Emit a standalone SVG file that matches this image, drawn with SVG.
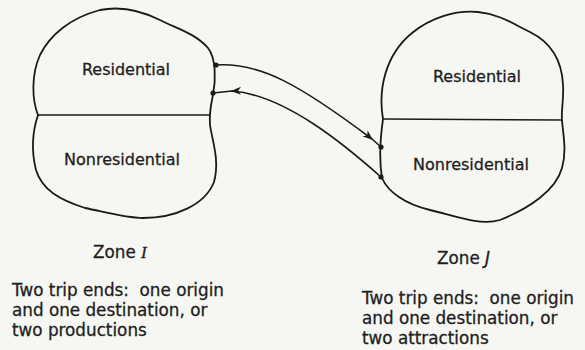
<svg xmlns="http://www.w3.org/2000/svg" width="585" height="350" viewBox="0 0 585 350">
<style>
.blob{fill:none;stroke:#1a1a1a;stroke-width:1.8;stroke-linejoin:round}
.div{stroke:#1a1a1a;stroke-width:1.6}
.conn{fill:none;stroke:#1a1a1a;stroke-width:1.6;marker-mid:url(#arr)}
.dot{fill:#1a1a1a}
.lbl{font-family:"DejaVu Sans",sans-serif;font-size:16px;fill:#1e1e1e;stroke:#1e1e1e;stroke-width:0.3;text-anchor:middle}
.txt{font-family:"DejaVu Sans",sans-serif;font-size:16.8px;fill:#1e1e1e;stroke:#1e1e1e;stroke-width:0.3}
.it{font-family:"Liberation Serif",serif;font-style:italic}
</style>
<defs>
<marker id="arr" markerUnits="userSpaceOnUse" markerWidth="12" markerHeight="10" refX="9" refY="4" orient="auto" viewBox="0 0 12 8">
<path d="M0,0 L10,4 L0,8 L3,4 Z" fill="#1a1a1a"/>
</marker>
</defs>
<rect width="585" height="350" fill="#f6f6f3"/>
<g id="zoneI">
<path class="blob" d="M 38,115 C 32,100 31,75 40,55 C 50,35 70,18 100,10 C 120,6 140,10 160,20 C 175,28 195,33 208,48 C 216,58 216,80 213,95 C 211,105 209,112 210,125 C 212,140 220,160 214,182 C 205,205 175,218 143,218 C 125,218 105,212 85,208 C 60,200 42,190 36,170 C 31,150 33,130 38,115 Z"/>
<line class="div" x1="38" y1="115" x2="210" y2="115"/>
<text class="lbl" x="126" y="75">Residential</text>
<text class="lbl" x="122" y="165">Nonresidential</text>
<text class="txt" x="93" y="258">Zone <tspan class="it">I</tspan></text>
<text class="txt" x="12" y="296" xml:space="preserve">Two trip ends:  one origin</text>
<text class="txt" x="12" y="316">and one destination, or</text>
<text class="txt" x="12" y="336">two productions</text>
</g>
<g id="zoneJ">
<path class="blob" d="M 383,119 C 378,90 385,55 412,33 C 430,18 455,10 478,12 C 500,14 515,25 530,32 C 550,42 562,60 563,85 C 564,100 561,110 562,120 C 563,135 567,150 562,168 C 556,190 530,208 500,220 C 480,226 455,216 430,210 C 405,204 388,192 382,178 C 379,160 380,140 383,119 Z"/>
<line class="div" x1="383" y1="119" x2="562" y2="120"/>
<text class="lbl" x="477" y="82">Residential</text>
<text class="lbl" x="471" y="170">Nonresidential</text>
<text class="txt" x="437" y="264">Zone <tspan font-style="italic">J</tspan></text>
<text class="txt" x="362" y="304" xml:space="preserve">Two trip ends:  one origin</text>
<text class="txt" x="362" y="324">and one destination, or</text>
<text class="txt" x="362" y="344">two attractions</text>
</g>
<g id="connectors">
<path class="conn" d="M 216,65 C 260,62 300,85 372,139 L 381,147"/>
<path class="conn" d="M 381,177 C 345,145 285,95 232,91 L 213,93"/>
<circle class="dot" cx="216" cy="65" r="2.6"/>
<circle class="dot" cx="213" cy="93" r="2.6"/>
<circle class="dot" cx="381" cy="147" r="2.6"/>
<circle class="dot" cx="381" cy="177" r="2.6"/>
</g>
</svg>
